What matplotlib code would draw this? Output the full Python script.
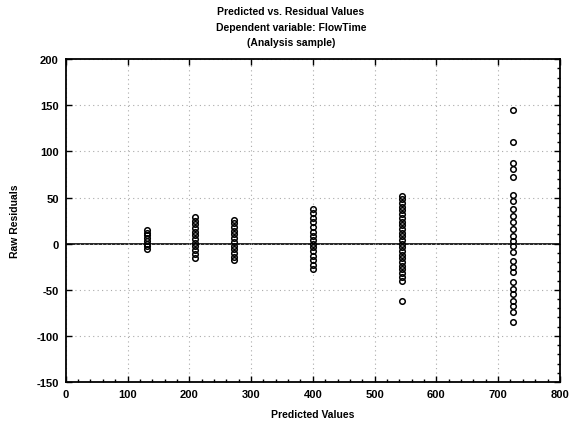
import matplotlib
matplotlib.use("Agg")
import matplotlib.pyplot as plt
from matplotlib.ticker import MultipleLocator

plt.rcParams['font.family'] = ['Liberation Sans', 'DejaVu Sans']
plt.rcParams['axes.unicode_minus'] = False

# Fitted values (one per treatment group) and the raw residuals observed at each
pred_groups = [131, 209, 272, 400, 544, 724]
resid_131 = [15, 12, 9, 6, 3, 0, -3, -6]
resid_209 = [29, 25, 21, 17, 13, 9, 5, 1, -3, -7, -11, -15]
resid_272 = [26, 22, 18, 14, 10, 6, 2, -2, -6, -10, -14, -18]
resid_400 = [38, 33, 28, 23, 18, 13, 8, 4, 0, -4, -8, -13, -18, -23, -28]
resid_544 = [52, 48, 44, 40, 36, 32, 28, 24, 20, 16, 12, 8, 4, 0, -4, -8,
             -12, -16, -20, -24, -28, -32, -36, -40, -62]
resid_724 = [145, 110, 88, 81, 72, 53, 46, 38, 30, 23, 16, 8, 3, -3, -9,
             -19, -25, -31, -42, -49, -55, -62, -68, -74, -85]
residuals = [resid_131, resid_209, resid_272, resid_400, resid_544, resid_724]

x_ticks = [0, 100, 200, 300, 400, 500, 600, 700, 800]
y_ticks = [-150, -100, -50, 0, 50, 100, 150, 200]

fig = plt.figure(figsize=(5.82, 4.27), dpi=100)
ax = fig.add_axes([0.113, 0.103, 0.849, 0.756])

for p, r in zip(pred_groups, residuals):
    ax.plot([p] * len(r), r, linestyle='none', marker='o', markersize=4.0,
            markerfacecolor='none', markeredgecolor='black', markeredgewidth=1.1)

ax.axhline(0, color='black', linewidth=1.2, zorder=1)

ax.set_xlim(0, 800)
ax.set_ylim(-150, 200)
ax.set_xticks(x_ticks)
ax.set_yticks(y_ticks)
ax.xaxis.set_minor_locator(MultipleLocator(20))
ax.yaxis.set_minor_locator(MultipleLocator(10))
ax.tick_params(which='major', direction='in', top=True, right=True, width=1,
               length=4, labelsize=8, pad=5)
ax.tick_params(which='minor', direction='in', bottom=True, right=True,
               top=False, left=False, width=1, length=2)
for lbl in ax.get_xticklabels() + ax.get_yticklabels():
    lbl.set_fontweight('bold')

ax.grid(True, which='major', linestyle=(0, (1, 3)), color='#aaaaaa', linewidth=0.8)
for s in ax.spines.values():
    s.set_linewidth(1.3)

ax.set_xlabel('Predicted Values', fontsize=7.5, fontweight='bold', labelpad=7)
ax.set_ylabel('Raw Residuals', fontsize=7.5, fontweight='bold', labelpad=12)

fig.text(0.5, 0.972, 'Predicted vs. Residual Values', ha='center', va='center',
         fontsize=7.5, fontweight='bold')
fig.text(0.5, 0.935, 'Dependent variable: FlowTime', ha='center', va='center',
         fontsize=7.5, fontweight='bold')
fig.text(0.5, 0.900, '(Analysis sample)', ha='center', va='center',
         fontsize=7.5, fontweight='bold')

fig.savefig('out.png', dpi=100)
